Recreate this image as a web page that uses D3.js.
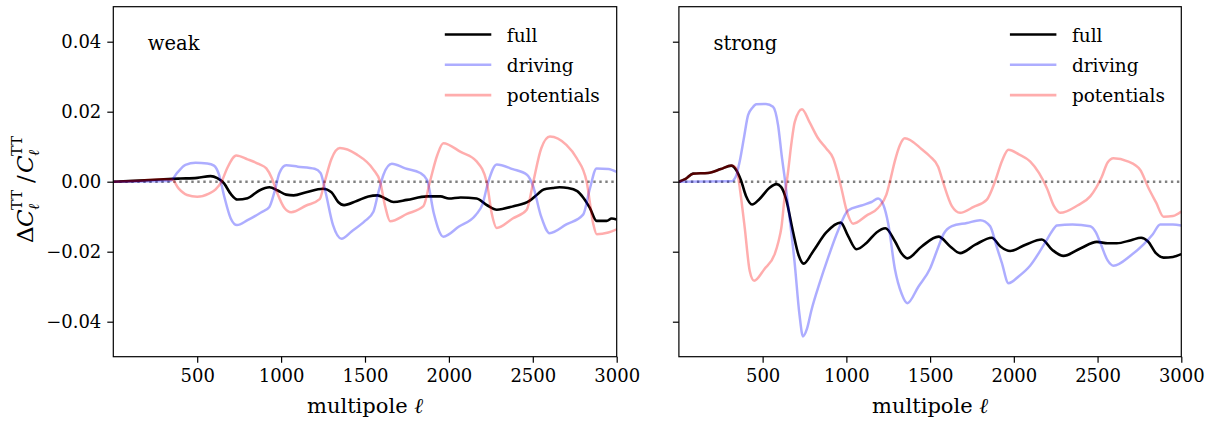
<!DOCTYPE html>
<html><head><meta charset="utf-8">
<script src="https://cdn.jsdelivr.net/npm/d3@7"></script>
<style>body{margin:0;background:#fff}svg{display:block}</style>
</head><body><svg id="c" width="1213" height="424"></svg>
<script>
const panels = ["weak", "strong"];
const seriesNames = ["full", "driving", "potentials"];
const xTicks = [500, 1000, 1500, 2000, 2500, 3000];
const yTicks = [0.04, 0.02, 0.0, -0.02, -0.04];
const yTickLabels = ["0.04", "0.02", "0.00", "\u22120.02", "\u22120.04"];

const weakFull = [[0,0],[150,0.0003],[300,0.0007],[400,0.0009],[500,0.0011],[580,0.0016],[620,0.001],[660,-0.0005],[700,-0.0035],[740,-0.0051],[800,-0.0047],[870,-0.0025],[930,-0.0016],[980,-0.0025],[1030,-0.0037],[1075,-0.0039],[1150,-0.003],[1250,-0.002],[1300,-0.003],[1340,-0.0058],[1375,-0.0067],[1450,-0.0055],[1520,-0.0042],[1575,-0.0039],[1620,-0.0048],[1670,-0.0058],[1750,-0.0052],[1870,-0.0042],[1950,-0.0042],[2000,-0.0048],[2070,-0.0045],[2165,-0.0048],[2230,-0.0068],[2285,-0.008],[2385,-0.007],[2480,-0.0055],[2530,-0.0035],[2565,-0.0022],[2620,-0.0018],[2660,-0.0016],[2710,-0.0018],[2765,-0.0027],[2800,-0.0045],[2840,-0.0075],[2880,-0.0112],[2940,-0.0112],[2970,-0.0105],[3000,-0.0108]];
const weakDriving = [[0,0],[340,0.0002],[380,0.0025],[430,0.0048],[490,0.0054],[560,0.0052],[600,0.0046],[630,0.002],[660,-0.004],[700,-0.0105],[737,-0.0124],[800,-0.011],[880,-0.0088],[930,-0.0072],[960,-0.003],[990,0.0025],[1030,0.0047],[1100,0.0043],[1200,0.0037],[1235,0.0025],[1265,-0.003],[1310,-0.0125],[1360,-0.0163],[1420,-0.0142],[1500,-0.0112],[1550,-0.0086],[1580,-0.003],[1610,0.002],[1660,0.0051],[1740,0.0038],[1830,0.0025],[1870,0.0005],[1910,-0.009],[1967,-0.0157],[2060,-0.0128],[2160,-0.0095],[2200,-0.0065],[2235,0],[2285,0.0049],[2380,0.0036],[2465,0.002],[2500,-0.001],[2550,-0.01],[2600,-0.0147],[2700,-0.0122],[2800,-0.0094],[2840,-0.002],[2880,0.0038],[2950,0.0036],[3000,0.0028]];
const weakPotentials = [[0,0],[150,0.0003],[300,0.0007],[350,0.0006],[390,-0.002],[440,-0.0038],[500,-0.0043],[570,-0.0034],[610,-0.0022],[645,0],[680,0.004],[733,0.0075],[800,0.0064],[870,0.005],[912,0.0038],[945,0.001],[975,-0.003],[1020,-0.0075],[1060,-0.0087],[1150,-0.0068],[1230,-0.005],[1260,0],[1300,0.0065],[1350,0.0096],[1450,0.0078],[1548,0.0036],[1590,0],[1620,-0.007],[1650,-0.0113],[1750,-0.0092],[1848,-0.007],[1887,0],[1930,0.0075],[1967,0.011],[2070,0.0085],[2165,0.0058],[2225,0],[2255,-0.009],[2285,-0.0132],[2380,-0.0105],[2464,-0.008],[2503,0],[2550,0.0095],[2602,0.0129],[2700,0.0105],[2762,0.0067],[2821,0],[2860,-0.012],[2881,-0.015],[2950,-0.0145],[3000,-0.0136]];

const strongFull = [[0,0],[40,0.0008],[84,0.0023],[174,0.0025],[250,0.0036],[313,0.0046],[340,0.0035],[370,0.0005],[400,-0.004],[437,-0.0065],[480,-0.005],[540,-0.0018],[582,-0.0007],[610,-0.0015],[640,-0.005],[680,-0.014],[715,-0.021],[745,-0.0234],[800,-0.02],[880,-0.0145],[966,-0.0117],[1010,-0.0155],[1060,-0.0193],[1120,-0.0175],[1180,-0.0145],[1233,-0.0133],[1290,-0.017],[1330,-0.0205],[1364,-0.0219],[1450,-0.0185],[1550,-0.0157],[1620,-0.0185],[1679,-0.0204],[1770,-0.018],[1868,-0.016],[1920,-0.0185],[1978,-0.0198],[2070,-0.018],[2167,-0.0165],[2230,-0.0195],[2296,-0.0212],[2400,-0.019],[2496,-0.0172],[2560,-0.0176],[2615,-0.0176],[2700,-0.0167],[2760,-0.016],[2800,-0.017],[2850,-0.0205],[2894,-0.0217],[2950,-0.0215],[3000,-0.0207]];
const strongDriving = [[0,0],[313,0.0001],[340,0.0015],[363,0.0058],[390,0.013],[413,0.019],[440,0.0212],[462,0.0221],[520,0.0222],[562,0.0214],[592,0.0162],[615,0.007],[632,0.001],[660,-0.01],[690,-0.0226],[720,-0.038],[741,-0.0442],[765,-0.042],[791,-0.0368],[840,-0.029],[891,-0.0217],[950,-0.014],[1010,-0.0082],[1090,-0.0068],[1150,-0.0058],[1189,-0.0048],[1220,-0.0065],[1250,-0.012],[1290,-0.025],[1330,-0.032],[1364,-0.0347],[1430,-0.03],[1500,-0.0248],[1548,-0.0188],[1580,-0.015],[1630,-0.0127],[1720,-0.0118],[1799,-0.011],[1858,-0.0127],[1900,-0.019],[1928,-0.0231],[1968,-0.029],[2030,-0.027],[2097,-0.024],[2187,-0.0174],[2230,-0.014],[2257,-0.0125],[2350,-0.0122],[2456,-0.0127],[2490,-0.0145],[2516,-0.0174],[2560,-0.0225],[2595,-0.024],[2700,-0.021],[2775,-0.0179],[2830,-0.015],[2874,-0.0122],[2950,-0.0122],[3000,-0.0125]];
const strongPotentials = [[0,0],[40,0.0008],[84,0.0023],[174,0.0025],[250,0.0036],[313,0.0046],[340,0.004],[355,0.001],[375,-0.006],[393,-0.0131],[423,-0.0255],[449,-0.0283],[510,-0.025],[572,-0.0207],[595,-0.017],[612,-0.0131],[630,-0.005],[652,0.0029],[672,0.011],[692,0.0171],[735,0.0207],[780,0.017],[831,0.0124],[880,0.0095],[921,0.0067],[945,0.003],[970,-0.0018],[1000,-0.008],[1040,-0.012],[1120,-0.0097],[1189,-0.0075],[1239,-0.0037],[1265,0.001],[1289,0.0058],[1320,0.0105],[1349,0.0124],[1450,0.0093],[1500,0.0072],[1548,0.0043],[1579,-0.0004],[1630,-0.007],[1679,-0.0089],[1760,-0.0072],[1839,-0.0051],[1888,0.0001],[1930,0.006],[1968,0.0091],[2030,0.0078],[2097,0.0058],[2150,0.0025],[2197,-0.0018],[2240,-0.007],[2277,-0.0089],[2380,-0.0068],[2456,-0.0042],[2526,0.0015],[2560,0.0055],[2595,0.0067],[2680,0.0058],[2754,0.0034],[2804,-0.0018],[2850,-0.006],[2894,-0.01],[2950,-0.0098],[3000,-0.0085]];

const panelData = {
  weak: [weakFull, weakDriving, weakPotentials],
  strong: [strongFull, strongDriving, strongPotentials]
};
const colors = ["#000000", "#0000ff", "#ff0000"];
const opac = [1, 0.32, 0.32];
const FONT = "DejaVu Serif";

const svg = d3.select("#c").attr("font-family", FONT);
const yTop = 6.7, yBottom = 356.7;
const panelX = [[113.3, 616.7], [678.9, 1181.3]];
const y = d3.scaleLinear().domain([-0.05, 0.05]).range([yBottom, yTop]);

panels.forEach((name, pi) => {
  const [x0, x1] = panelX[pi];
  const x = d3.scaleLinear().domain([0, 3000]).range([x0, x1]);
  const g = svg.append("g");
  const clipId = "clip" + pi;
  svg.append("clipPath").attr("id", clipId).append("rect")
    .attr("x", x0).attr("y", yTop).attr("width", x1 - x0).attr("height", yBottom - yTop);

  g.append("line").attr("x1", x0).attr("x2", x1).attr("y1", y(0)).attr("y2", y(0))
    .attr("stroke", "#808080").attr("stroke-width", 2.4).attr("stroke-dasharray", "2.4,3.6");

  const line = d3.line().x(d => x(d[0])).y(d => y(d[1])).curve(d3.curveMonotoneX);
  const pg = g.append("g").attr("clip-path", `url(#${clipId})`);
  panelData[name].forEach((data, si) => {
    pg.append("path").datum(data).attr("d", line).attr("fill", "none")
      .attr("stroke", colors[si]).attr("stroke-opacity", opac[si])
      .attr("stroke-width", si === 0 ? 2.6 : 2.5).attr("stroke-linejoin", "round");
  });

  const xa = g.append("g").attr("transform", `translate(0,${yBottom})`)
    .call(d3.axisBottom(x).tickValues(xTicks).tickSize(6).tickPadding(7).tickFormat(d3.format("d")));
  const ya = g.append("g").attr("transform", `translate(${x0},0)`)
    .call(d3.axisLeft(y).tickValues(yTicks).tickSize(6).tickPadding(6)
      .tickFormat((d, i) => pi === 0 ? yTickLabels[i] : ""));
  [xa, ya].forEach(a => {
    a.attr("font-family", FONT).attr("font-size", 18);
    a.select(".domain").remove();
    a.selectAll(".tick line").attr("stroke", "#000").attr("stroke-width", 1.2);
    a.selectAll(".tick text").attr("fill", "#000");
  });
  g.append("rect").attr("x", x0).attr("y", yTop).attr("width", x1 - x0).attr("height", yBottom - yTop)
    .attr("fill", "none").attr("stroke", "#000").attr("stroke-width", 1.2);

  g.append("text").attr("x", x0 + 34.5).attr("y", 50).attr("font-size", 19.5).text(name);

  const lx = x0 + 331.5 + (pi === 1 ? -0.5 : 0);
  seriesNames.forEach((s, si) => {
    const ly = 34.5 + si * 30.3;
    g.append("line").attr("x1", lx).attr("x2", lx + 46.5).attr("y1", ly).attr("y2", ly)
      .attr("stroke", colors[si]).attr("stroke-opacity", opac[si]).attr("stroke-width", 2.6);
    g.append("text").attr("x", lx + 62).attr("y", ly + 7).attr("font-size", 18.5).text(s);
  });

  const xl = g.append("text").attr("x", (x0 + x1) / 2).attr("y", 413).attr("text-anchor", "middle")
    .attr("font-size", 21);
  xl.append("tspan").text("multipole ");
  xl.append("tspan").attr("font-style", "italic").text("\u2113");
});

const yl = svg.append("g").attr("transform", "translate(33,183) rotate(-90)");
const piece = (t, px, py, fs, it) => yl.append("text").attr("x", px).attr("y", py)
  .attr("font-size", fs).attr("font-style", it ? "italic" : "normal").text(t);
piece("\u0394", -60, 0, 23, false);
piece("C", -44, 0, 23, true);
piece("TT", -27, -11, 15, false);
piece("\u2113", -27, 6, 15, true);
piece("/", 0, 0, 23, false);
piece("C", 10, 0, 23, true);
piece("TT", 27, -11, 15, false);
piece("\u2113", 27, 6, 15, true);
</script></body></html>
